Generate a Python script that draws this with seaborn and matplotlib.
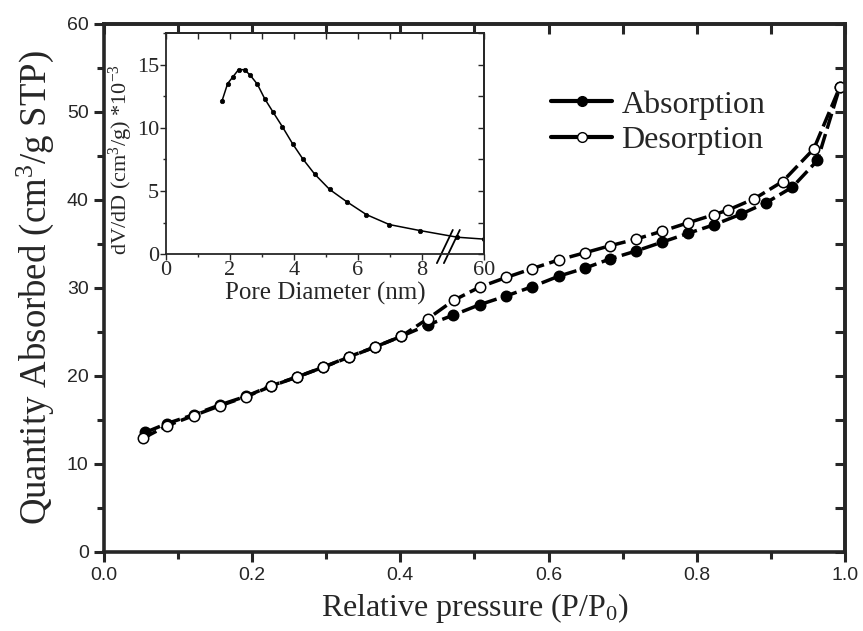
import numpy as np
import seaborn as sns
import matplotlib
matplotlib.use('Agg')
import matplotlib.pyplot as plt
from matplotlib.lines import Line2D
from matplotlib.ticker import MultipleLocator, FixedLocator, FixedFormatter, NullFormatter

# isotherm
p_des = [0.052, 0.085, 0.121, 0.156, 0.192, 0.226, 0.261, 0.296, 0.331, 0.366,
         0.401, 0.437, 0.472, 0.507, 0.543, 0.578, 0.614, 0.649, 0.683, 0.718,
         0.753, 0.788, 0.824, 0.842, 0.878, 0.916, 0.958, 0.993]
q_des = [12.9, 14.35, 15.5, 16.6, 17.65, 18.85, 19.9, 21.0, 22.15, 23.3,
         24.5, 26.5, 28.6, 30.1, 31.2, 32.2, 33.2, 34.0, 34.8, 35.55,
         36.45, 37.4, 38.35, 38.85, 40.15, 42.1, 45.8, 52.8]
p_ads = [0.056, 0.085, 0.121, 0.156, 0.192, 0.226, 0.261, 0.296, 0.331, 0.366,
         0.401, 0.437, 0.471, 0.507, 0.543, 0.578, 0.614, 0.649, 0.683, 0.718,
         0.753, 0.788, 0.824, 0.860, 0.894, 0.929, 0.963, 0.993]
q_ads = [13.6, 14.6, 15.6, 16.7, 17.7, 18.9, 19.9, 21.0, 22.2, 23.3,
         24.5, 25.8, 26.9, 28.1, 29.1, 30.15, 31.35, 32.25, 33.3, 34.2,
         35.2, 36.2, 37.2, 38.4, 39.7, 41.45, 44.5, 52.8]

# pore size distribution (inset)
pore_d = [1.75, 1.93, 2.10, 2.27, 2.46, 2.64, 2.86, 3.09, 3.35, 3.64, 3.96,
          4.28, 4.65, 5.12, 5.65, 6.27, 6.99, 7.96, 23.0, 60.0]
dvdd = [12.1, 13.5, 14.05, 14.6, 14.6, 14.15, 13.45, 12.3, 11.25, 10.1, 8.75,
        7.55, 6.35, 5.13, 4.17, 3.14, 2.35, 1.87, 1.35, 1.2]

sns.set_theme(style='ticks')
plt.rcParams['font.family'] = ['Liberation Serif', 'DejaVu Serif']
plt.rcParams['mathtext.fontset'] = 'custom'
plt.rcParams['mathtext.rm'] = 'Liberation Serif'
plt.rcParams['mathtext.it'] = 'Liberation Serif:italic'

fig = plt.figure(figsize=(8.63, 6.31), dpi=100)
ax = fig.add_axes([0.1205, 0.1252, 0.8585, 0.8368])

line_kw = dict(color='black', lw=2.5, linestyle=(0, (4.5, 1.6)), marker='o',
               markersize=7.5, markeredgecolor='black', markeredgewidth=1.1)
sns.lineplot(x=p_ads, y=q_ads, ax=ax, markerfacecolor='black', sort=False, **line_kw)
sns.lineplot(x=p_des, y=q_des, ax=ax, markerfacecolor='white', sort=False, **line_kw)

ax.set_xlim(0, 1.0)
ax.set_ylim(0, 60)
ax.xaxis.set_major_locator(MultipleLocator(0.2))
ax.xaxis.set_minor_locator(MultipleLocator(0.1))
ax.yaxis.set_major_locator(MultipleLocator(10))
ax.yaxis.set_minor_locator(MultipleLocator(5))
ax.set_xticklabels(['{:.1f}'.format(t) for t in ax.get_xticks()])
for lab in ax.get_xticklabels() + ax.get_yticklabels():
    lab.set_family('Liberation Sans')
ax.tick_params(which='major', direction='out', length=7, width=2.2, labelsize=14, pad=4)
ax.tick_params(which='minor', direction='out', length=5, width=2.2)
for s in ax.spines.values():
    s.set_linewidth(2.6)

# mirrored ticks pointing inward on top and right
top = ax.secondary_xaxis('top')
top.xaxis.set_major_locator(MultipleLocator(0.2))
top.xaxis.set_minor_locator(MultipleLocator(0.1))
top.xaxis.set_major_formatter(NullFormatter())
top.tick_params(which='both', direction='in', length=7, width=2.2)
right = ax.secondary_yaxis('right')
right.yaxis.set_major_locator(MultipleLocator(10))
right.yaxis.set_minor_locator(MultipleLocator(5))
right.yaxis.set_major_formatter(NullFormatter())
right.tick_params(which='both', direction='in', length=7, width=2.2)
for sec in (top, right):
    for s in sec.spines.values():
        s.set_linewidth(2.6)

ax.set_xlabel('Relative pressure (P/P$_0$)', fontsize=23, labelpad=5)
ax.set_ylabel('Quantity Absorbed (cm$^3$/g STP)', fontsize=26.5, labelpad=8)

handles = [
    Line2D([], [], color='black', lw=3, marker='o', markersize=7,
           markerfacecolor='black', markeredgecolor='black'),
    Line2D([], [], color='black', lw=3, marker='o', markersize=7,
           markerfacecolor='white', markeredgecolor='black'),
]
ax.legend(handles, ['Absorption', 'Desorption'], loc='upper left',
          bbox_to_anchor=(0.582, 0.905), frameon=False, fontsize=23,
          handlelength=1.9, handletextpad=0.3, labelspacing=0.2, borderpad=0)

# inset: pore size distribution with broken x axis
brk = 8.8
k = 1.15 / (60 - brk)


def fwd(x):
    x = np.asarray(x, dtype=float)
    return np.where(x <= brk, x, brk + (x - brk) * k)


def inv(y):
    y = np.asarray(y, dtype=float)
    return np.where(y <= brk, y, brk + (y - brk) / k)


ins = fig.add_axes([0.1923, 0.597, 0.3685, 0.3507])
ins.set_xscale('function', functions=(fwd, inv))
sns.lineplot(x=pore_d, y=dvdd, ax=ins, color='black', lw=1.1, marker='o',
             markersize=3.2, markeredgecolor='black', markeredgewidth=0.5,
             sort=False)
ins.set_xlim(0, 60)
ins.set_ylim(0, 17.5)
ins.xaxis.set_major_locator(FixedLocator([0, 2, 4, 6, 8, 60]))
ins.xaxis.set_minor_locator(FixedLocator([1, 3, 5, 7]))
ins.xaxis.set_major_formatter(FixedFormatter(['0', '2', '4', '6', '8', '60']))
ins.yaxis.set_major_locator(MultipleLocator(5))
ins.yaxis.set_minor_locator(MultipleLocator(2.5))
ins.tick_params(which='major', direction='out', length=4, width=1, labelsize=16, pad=1)
ins.tick_params(which='minor', direction='out', length=2.5, width=1)
for s in ins.spines.values():
    s.set_linewidth(1.3)
itop = ins.secondary_xaxis('top', functions=(lambda v: v, lambda v: v))
itop.set_xscale('function', functions=(fwd, inv))
itop.xaxis.set_major_locator(FixedLocator([0, 2, 4, 6, 8, 60]))
itop.xaxis.set_minor_locator(FixedLocator([1, 3, 5, 7]))
itop.xaxis.set_major_formatter(NullFormatter())
itop.tick_params(which='both', direction='in', length=4, width=1)
iright = ins.secondary_yaxis('right')
iright.yaxis.set_major_locator(MultipleLocator(5))
iright.yaxis.set_minor_locator(MultipleLocator(2.5))
iright.yaxis.set_major_formatter(NullFormatter())
iright.tick_params(which='both', direction='in', length=4, width=1)
for sec in (itop, iright):
    for s in sec.spines.values():
        s.set_linewidth(1.3)

ins.set_xlabel('Pore Diameter (nm)', fontsize=18, labelpad=1)
ins.set_ylabel('dV/dD (cm$^3$/g) *10$^{-3}$', fontsize=16)
ins.yaxis.set_label_coords(-0.097, 0.43)

# break marks on the inset x axis
for dx in (0.0, 0.022):
    ins.plot([0.852 + dx, 0.902 + dx], [-0.04, 0.11], transform=ins.transAxes,
             color='black', lw=1.3, clip_on=False)

fig.savefig('out.png', dpi=100)
